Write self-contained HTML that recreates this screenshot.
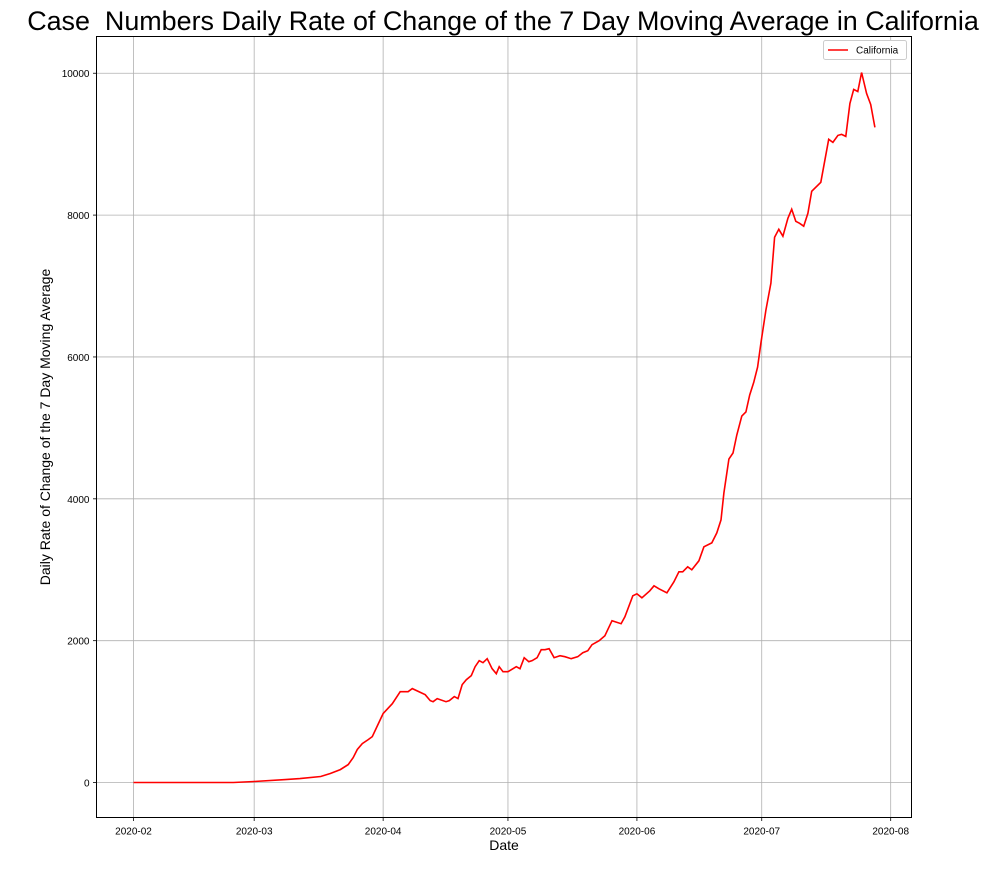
<!DOCTYPE html>
<html><head><meta charset="utf-8"><style>
body{margin:0;background:#fff;}
svg text{font-family:"Liberation Sans",sans-serif;}
</style></head><body>
<svg id="chart" width="1008" height="864" xmlns="http://www.w3.org/2000/svg">
<text x="503" y="30" text-anchor="middle" font-size="26.9" style="white-space:pre">Case  Numbers Daily Rate of Change of the 7 Day Moving Average in California</text>
<g id="grid"></g>
<g id="ticks"></g>
<path id="line" fill="none" stroke="#ff0000" stroke-width="1.6"/>
<rect x="96.5" y="36.5" width="815" height="781" fill="none" stroke="#000" stroke-width="1"/>
<text x="504" y="850" text-anchor="middle" font-size="14">Date</text>
<text transform="translate(50,427) rotate(-90)" text-anchor="middle" font-size="14">Daily Rate of Change of the 7 Day Moving Average</text>
<g>
<rect x="823.5" y="40.5" width="83" height="19" rx="2" fill="#fff" stroke="#ccc"/>
<line x1="828" y1="50" x2="848" y2="50" stroke="#ff0000" stroke-width="1.6"/>
<text x="856" y="53.5" font-size="10">California</text>
</g>
</svg>
<script>
const days=[0,24,29,36.5,40,45,47.3,49.7,51.6,52.8,53.8,55,56.4,57.4,60,62.2,64.1,66,67,70.1,71.3,72,73,75.1,75.9,77.1,78,79,80,81.2,82.1,83.1,84,85,86.2,87.2,87.9,88.8,90,92,92.9,93.9,95,95.8,97,98,98.9,99.9,101.1,102.5,103.7,105.2,106.8,108,109.2,110.2,111.9,113.3,115,117.2,118.1,120,121,122.2,124.1,125.1,126.3,128.2,129.9,131.1,132,133.2,134.2,135.9,137.1,139,140.2,141.2,141.9,143.1,144.1,145,146.2,147.2,148.1,149.1,150,150.8,152,153.2,154.1,155.1,156.1,157.3,158.2,159.2,160.1,161.1,162.1,163,165.2,167.1,168.1,169.3,170.2,171.2,172.2,173.1,174.1,175,176.2,177.2,178.2];
const values=[0,0,14,42,56,85,127,183,253,352,465,549,605,648,972,1112,1281,1281,1324,1239,1155,1140,1183,1140,1155,1211,1183,1380,1450,1507,1633,1718,1690,1746,1605,1535,1633,1563,1563,1633,1605,1760,1704,1718,1760,1873,1873,1887,1760,1788,1774,1746,1774,1830,1859,1943,2000,2070,2281,2239,2337,2633,2661,2605,2703,2774,2732,2675,2830,2971,2971,3041,2999,3126,3323,3379,3520,3703,4083,4562,4646,4900,5167,5224,5463,5646,5857,6195,6660,7040,7688,7800,7702,7955,8082,7913,7885,7843,8026,8335,8462,9068,9025,9124,9138,9110,9574,9772,9743,10011,9715,9560,9236];
const xTickDays=[0,29,60,90,121,151,182];
const xTickLabels=["2020-02","2020-03","2020-04","2020-05","2020-06","2020-07","2020-08"];
const yTicks=[0,2000,4000,6000,8000,10000];
const NS="http://www.w3.org/2000/svg";
const L=96.5,R=911.5,T=36.5,B=817.5;
const xMin=-8.9,xMax=187.0,yMin=-493,yMax=10518;
function sx(d){return L+(d-xMin)/(xMax-xMin)*(R-L);}
function sy(v){return B-(v-yMin)/(yMax-yMin)*(B-T);}
const grid=document.getElementById('grid'),ticks=document.getElementById('ticks');
function mk(tag,attrs,parent){const e=document.createElementNS(NS,tag);for(const k in attrs)e.setAttribute(k,attrs[k]);parent.appendChild(e);return e;}
xTickDays.forEach((d,i)=>{
  const x=sx(d);
  const g=mk('line',{x1:x,x2:x,y1:T,y2:B,stroke:'#b0b0b0','stroke-width':0.8},grid);
  
  
  mk('line',{x1:x,x2:x,y1:B,y2:B+3.5,stroke:'#000','stroke-width':0.8},ticks);
  const t=mk('text',{x:x,y:B+17,'text-anchor':'middle','font-size':10},ticks);
  t.textContent=xTickLabels[i];
  
  
});
yTicks.forEach(v=>{
  const y=sy(v);
  const g=mk('line',{x1:L,x2:R,y1:y,y2:y,stroke:'#b0b0b0','stroke-width':0.8},grid);
  
  
  mk('line',{x1:L-3.5,x2:L,y1:y,y2:y,stroke:'#000','stroke-width':0.8},ticks);
  const t=mk('text',{x:L-7,y:y+4,'text-anchor':'end','font-size':10},ticks);
  t.textContent=String(v);
  
  
});
document.getElementById('line').setAttribute('d',days.map((d,i)=>(i?'L':'M')+sx(d).toFixed(1)+','+sy(values[i]).toFixed(1)).join(''));
</script>
</body></html>
